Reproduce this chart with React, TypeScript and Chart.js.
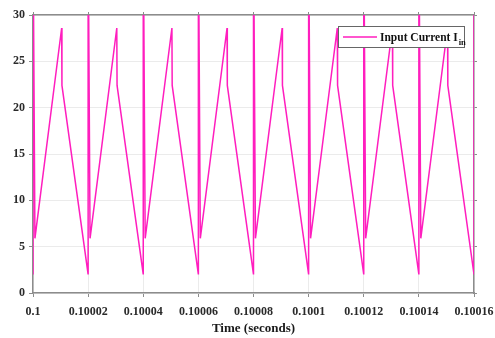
import React, { useEffect, useRef } from "react";
import { Chart, registerables } from "chart.js";

Chart.register(...registerables);

// Time samples (seconds) and input current (A)
const timeS = [
  0.1, 0.1, 0.1000007, 0.1000104, 0.1000105,
  0.10002, 0.10002, 0.1000207, 0.1000304, 0.1000305,
  0.10004, 0.10004, 0.1000407, 0.1000504, 0.1000505,
  0.10006, 0.10006, 0.1000607, 0.1000704, 0.1000705,
  0.10008, 0.10008, 0.1000807, 0.1000904, 0.1000905,
  0.1001, 0.1001, 0.1001007, 0.1001104, 0.1001105,
  0.10012, 0.10012, 0.1001207, 0.1001304, 0.1001305,
  0.10014, 0.10014, 0.1001407, 0.1001504, 0.1001505,
  0.10016, 0.10016,
];
const currentA = [
  2.0, 40, 5.9, 28.6, 22.4,
  2.0, 40, 5.9, 28.6, 22.4,
  2.0, 40, 5.9, 28.6, 22.4,
  2.0, 40, 5.9, 28.6, 22.4,
  2.0, 40, 5.9, 28.6, 22.4,
  2.0, 40, 5.9, 28.6, 22.4,
  2.0, 40, 5.9, 28.6, 22.4,
  2.0, 40, 5.9, 28.6, 22.4,
  2.0, 40,
];

const xTickValues = [0.1, 0.10002, 0.10004, 0.10006, 0.10008, 0.1001, 0.10012, 0.10014, 0.10016];
const xTickLabels = ["0.1", "0.10002", "0.10004", "0.10006", "0.10008", "0.1001", "0.10012", "0.10014", "0.10016"];
const yTickValues = [0, 5, 10, 15, 20, 25, 30];

const seriesLabel = "Input Current I";
const seriesSub = "in";
const xTitle = "Time (seconds)";

const LINE = "rgb(255, 30, 190)";
const AXIS = "#8c8c8c";
const GRID = "#ebebeb";
const FONT = "'Liberation Serif', 'Times New Roman', serif";

const legendPlugin = {
  id: "customLegend",
  afterDraw(chart: any) {
    const { ctx, chartArea } = chart;
    const bw = 127, bh = 22;
    const bx = chartArea.right - 9 - bw;
    const by = chartArea.top + 11;
    ctx.save();
    ctx.fillStyle = "#ffffff";
    ctx.fillRect(bx, by, bw, bh);
    ctx.strokeStyle = "#666";
    ctx.lineWidth = 1;
    ctx.strokeRect(bx + 0.5, by + 0.5, bw - 1, bh - 1);
    ctx.strokeStyle = LINE;
    ctx.lineWidth = 1.5;
    ctx.beginPath();
    ctx.moveTo(bx + 5, by + 11);
    ctx.lineTo(bx + 39, by + 11);
    ctx.stroke();
    ctx.fillStyle = "#111";
    ctx.textBaseline = "alphabetic";
    ctx.textAlign = "left";
    ctx.font = `bold 11.5px ${FONT}`;
    ctx.fillText(seriesLabel, bx + 42, by + 15);
    const w = ctx.measureText(seriesLabel).width;
    ctx.font = `bold 8.5px ${FONT}`;
    ctx.fillText(seriesSub, bx + 42 + w + 1, by + 19);
    ctx.restore();
  },
};

const fixH = (h: number) => (s: any) => {
  s.height = h;
  s.paddingLeft = 0;
  s.paddingRight = 0;
};
const fixW = (w: number) => (s: any) => {
  s.width = w;
  s.paddingTop = 0;
  s.paddingBottom = 0;
};

export default function App() {
  const ref = useRef<HTMLCanvasElement | null>(null);
  useEffect(() => {
    document.body.style.margin = "0";
    const canvas = ref.current;
    if (!canvas) return;
    const data = timeS.map((t, i) => ({ x: t, y: currentA[i] }));
    const chart = new Chart(canvas, {
      type: "line",
      data: {
        datasets: [
          {
            label: seriesLabel + seriesSub,
            data,
            borderColor: LINE,
            borderWidth: 1.5,
            pointRadius: 0,
            tension: 0,
            fill: false,
          },
        ],
      },
      options: {
        responsive: false,
        animation: false,
        parsing: false as any,
        layout: { padding: 0 },
        plugins: { legend: { display: false }, tooltip: { enabled: false } },
        scales: {
          x: {
            type: "linear",
            position: "bottom",
            min: 0.1,
            max: 0.10016,
            afterBuildTicks: (s: any) => {
              s.ticks = xTickValues.map((v) => ({ value: v }));
            },
            afterFit: fixH(45),
            ticks: {
              callback: (_v: any, i: number) => xTickLabels[i],
              font: { family: FONT, size: 12, weight: "bold" },
              color: "#2a2a2a",
              padding: 8,
              maxRotation: 0,
              autoSkip: false,
            },
            grid: { color: GRID, tickColor: AXIS, tickLength: 4, lineWidth: 1 },
            border: { color: AXIS, width: 1.5 },
            title: {
              display: true,
              text: xTitle,
              font: { family: FONT, size: 13, weight: "bold" },
              color: "#1a1a1a",
              padding: { top: 0, bottom: 2 },
            },
          },
          x2: {
            type: "linear",
            axis: "x",
            position: "top",
            min: 0.1,
            max: 0.10016,
            afterBuildTicks: (s: any) => {
              s.ticks = xTickValues.map((v) => ({ value: v }));
            },
            afterFit: fixH(15),
            ticks: { display: false },
            grid: { drawOnChartArea: false, tickColor: AXIS, tickLength: 3 },
            border: { color: AXIS, width: 1.5 },
          },
          y: {
            type: "linear",
            position: "left",
            min: 0,
            max: 30,
            afterBuildTicks: (s: any) => {
              s.ticks = yTickValues.map((v) => ({ value: v }));
            },
            afterFit: fixW(33),
            ticks: {
              font: { family: FONT, size: 12, weight: "bold" },
              color: "#2a2a2a",
              padding: 4,
            },
            grid: { color: GRID, tickColor: AXIS, tickLength: 4, lineWidth: 1 },
            border: { color: AXIS, width: 1.5 },
          },
          y2: {
            type: "linear",
            axis: "y",
            position: "right",
            min: 0,
            max: 30,
            afterBuildTicks: (s: any) => {
              s.ticks = yTickValues.map((v) => ({ value: v }));
            },
            afterFit: fixW(21),
            ticks: { display: false },
            grid: { drawOnChartArea: false, tickColor: AXIS, tickLength: 3 },
            border: { color: AXIS, width: 1.5 },
          },
        },
      },
      plugins: [legendPlugin],
    } as any);
    return () => chart.destroy();
  }, []);
  return (
    <div style={{ width: 495, height: 338, background: "#fff" }}>
      <canvas ref={ref} width={495} height={338} style={{ display: "block" }} />
    </div>
  );
}
